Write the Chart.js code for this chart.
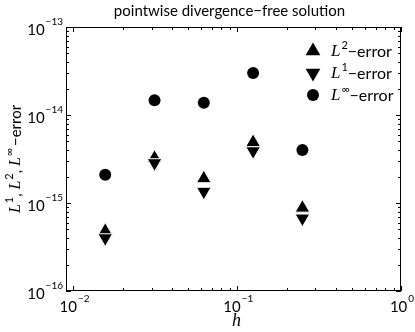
<!DOCTYPE html>
<html>
<head>
<meta charset="utf-8">
<script src="https://cdn.jsdelivr.net/npm/chart.js@4.4.1/dist/chart.umd.min.js"></script>
<style>
  html, body { margin: 0; padding: 0; background: #ffffff; }
  #wrap { width: 415px; height: 332px; }
</style>
</head>
<body>
<div id="wrap"><canvas id="errChart" width="415" height="332"></canvas></div>
<script>
// mesh sizes h
const hValues = [0.015625, 0.03125, 0.0625, 0.125, 0.25];
// errors
const l2Err = [4.8e-16, 3.25e-15, 1.9e-15, 4.9e-15, 8.8e-16];
const l1Err = [4.0e-16, 2.85e-15, 1.35e-15, 3.9e-15, 6.7e-16];
const linfErr = [2.1e-15, 1.47e-14, 1.38e-14, 3.0e-14, 4.0e-15];

// decade tick labels (exponents of 10)
const xTickExps = [-2, -1, 0];
const yTickExps = [-16, -15, -14, -13];

const titleText = "pointwise divergence\u2212free solution";
const legendSups = ["2", "1", "\u221e"];

const SANS = "Lato, 'Liberation Sans', sans-serif";
const SERIF = "'Liberation Serif', 'DejaVu Serif', serif";

function toPoints(xs, ys) {
  return xs.map(function (x, i) {
    return { x: x, y: ys[i] };
  });
}

// draw a run of text pieces with different fonts / offsets
function drawRich(ctx, parts, x, y, align) {
  let total = 0;
  parts.forEach(function (p) {
    ctx.font = p.font;
    total += ctx.measureText(p.text).width + (p.gap || 0);
  });
  let cx = x;
  if (align === "center") cx = x - total / 2;
  if (align === "right") cx = x - total;
  parts.forEach(function (p) {
    ctx.font = p.font;
    ctx.fillText(p.text, cx, y + (p.dy || 0));
    cx += ctx.measureText(p.text).width + (p.gap || 0);
  });
}

function powLabel(e) {
  return [
    { text: "10", font: "15px " + SANS, gap: 1 },
    { text: (e < 0 ? "\u2212" : "") + Math.abs(e), font: "10px " + SANS, dy: -8 }
  ];
}

const matlabAxes = {
  id: "matlabAxes",
  afterDraw: function (chart) {
    const ctx = chart.ctx;
    const a = chart.chartArea;
    const xs = chart.scales.x;
    const ys = chart.scales.y;
    ctx.save();
    ctx.strokeStyle = "#000";
    ctx.fillStyle = "#000";
    ctx.lineWidth = 1;

    // box
    ctx.strokeRect(a.left + 0.5, a.top + 0.5, a.right - a.left - 1, a.bottom - a.top - 1);

    // inward ticks, major + minor, all four sides
    ctx.beginPath();
    for (let e = -3; e <= 0; e++) {
      for (let m = 1; m <= 9; m++) {
        const v = m * Math.pow(10, e);
        if (v < xs.min || v > xs.max) continue;
        const px = Math.round(xs.getPixelForValue(v)) + 0.5;
        const len = m === 1 ? 5 : 3;
        ctx.moveTo(px, a.bottom);
        ctx.lineTo(px, a.bottom - len);
        ctx.moveTo(px, a.top);
        ctx.lineTo(px, a.top + len);
      }
    }
    for (let e = -16; e <= -13; e++) {
      for (let m = 1; m <= 9; m++) {
        const v = m * Math.pow(10, e);
        if (v < ys.min * 0.999 || v > ys.max * 1.001) continue;
        const py = Math.round(ys.getPixelForValue(v)) + 0.5;
        const len = m === 1 ? 5 : 3;
        ctx.moveTo(a.left, py);
        ctx.lineTo(a.left + len, py);
        ctx.moveTo(a.right, py);
        ctx.lineTo(a.right - len, py);
      }
    }
    ctx.stroke();

    // tick labels
    ctx.textBaseline = "middle";
    xTickExps.forEach(function (e) {
      const px = xs.getPixelForValue(Math.pow(10, e));
      drawRich(ctx, powLabel(e), px + 1, a.bottom + 16, "center");
    });
    yTickExps.forEach(function (e) {
      const py = ys.getPixelForValue(Math.pow(10, e));
      drawRich(ctx, powLabel(e), a.left - 3, py + 3, "right");
    });

    // title
    drawRich(ctx, [{ text: titleText, font: "15px " + SANS }], (a.left + a.right) / 2 - 4, 11, "center");

    // x title
    drawRich(ctx, [{ text: "h", font: "italic 18px " + SERIF }], (a.left + a.right) / 2 + 3, 321, "center");

    // y title, rotated
    ctx.save();
    ctx.translate(16, (a.top + a.bottom) / 2);
    ctx.rotate(-Math.PI / 2);
    const lf = "italic 16px " + SERIF;
    const sf = "11px " + SANS;
    drawRich(ctx, [
      { text: "L", font: lf, gap: 1 },
      { text: "1", font: sf, dy: -7 },
      { text: ", ", font: "15px " + SANS },
      { text: "L", font: lf, gap: 1 },
      { text: "2", font: sf, dy: -7 },
      { text: ", ", font: "15px " + SANS },
      { text: "L", font: lf, gap: 1 },
      { text: "\u221e", font: sf, dy: -7, gap: 2 },
      { text: "\u2212error", font: "15px " + SANS }
    ], 0, 0, "center");
    ctx.restore();

    // legend
    const rows = [
      { style: "triangle", rot: 0, r: 8.5 },
      { style: "triangle", rot: 180, r: 8.5 },
      { style: "circle", rot: 0, r: 6 }
    ];
    rows.forEach(function (row, i) {
      const ly = 51 + i * 22;
      ctx.fillStyle = "#000";
      Chart.helpers.drawPoint(ctx, { pointStyle: row.style, rotation: row.rot, radius: row.r, borderWidth: 0 }, 313, ly);
      ctx.textBaseline = "middle";
      drawRich(ctx, [
        { text: "L", font: "italic 17px " + SERIF, gap: 1 },
        { text: legendSups[i], font: "11px " + SANS, dy: -7 },
        { text: "\u2212error", font: "16px " + SANS }
      ], 331, ly + 1, "left");
    });

    ctx.restore();
  }
};

const ctx = document.getElementById("errChart").getContext("2d");
new Chart(ctx, {
  type: "scatter",
  data: {
    datasets: [
      {
        label: "L2-error",
        data: toPoints(hValues, l2Err),
        pointStyle: "triangle",
        rotation: 0,
        pointRadius: 8.5,
        backgroundColor: "#000",
        borderColor: "#fff",
        borderWidth: 1,
        order: 2
      },
      {
        label: "L1-error",
        data: toPoints(hValues, l1Err),
        pointStyle: "triangle",
        rotation: 180,
        pointRadius: 8.5,
        backgroundColor: "#000",
        borderColor: "#fff",
        borderWidth: 1,
        order: 1
      },
      {
        label: "Linf-error",
        data: toPoints(hValues, linfErr),
        pointStyle: "circle",
        pointRadius: 6,
        backgroundColor: "#000",
        borderWidth: 0,
        order: 3
      }
    ]
  },
  options: {
    responsive: false,
    animation: false,
    layout: { padding: { left: 66, right: 14, top: 27, bottom: 41 } },
    plugins: {
      legend: { display: false },
      tooltip: { enabled: false },
      title: { display: false }
    },
    scales: {
      x: { type: "logarithmic", min: 0.009, max: 1, display: false },
      y: { type: "logarithmic", min: 1e-16, max: 1e-13, display: false }
    }
  },
  plugins: [matlabAxes]
});
</script>
</body>
</html>
